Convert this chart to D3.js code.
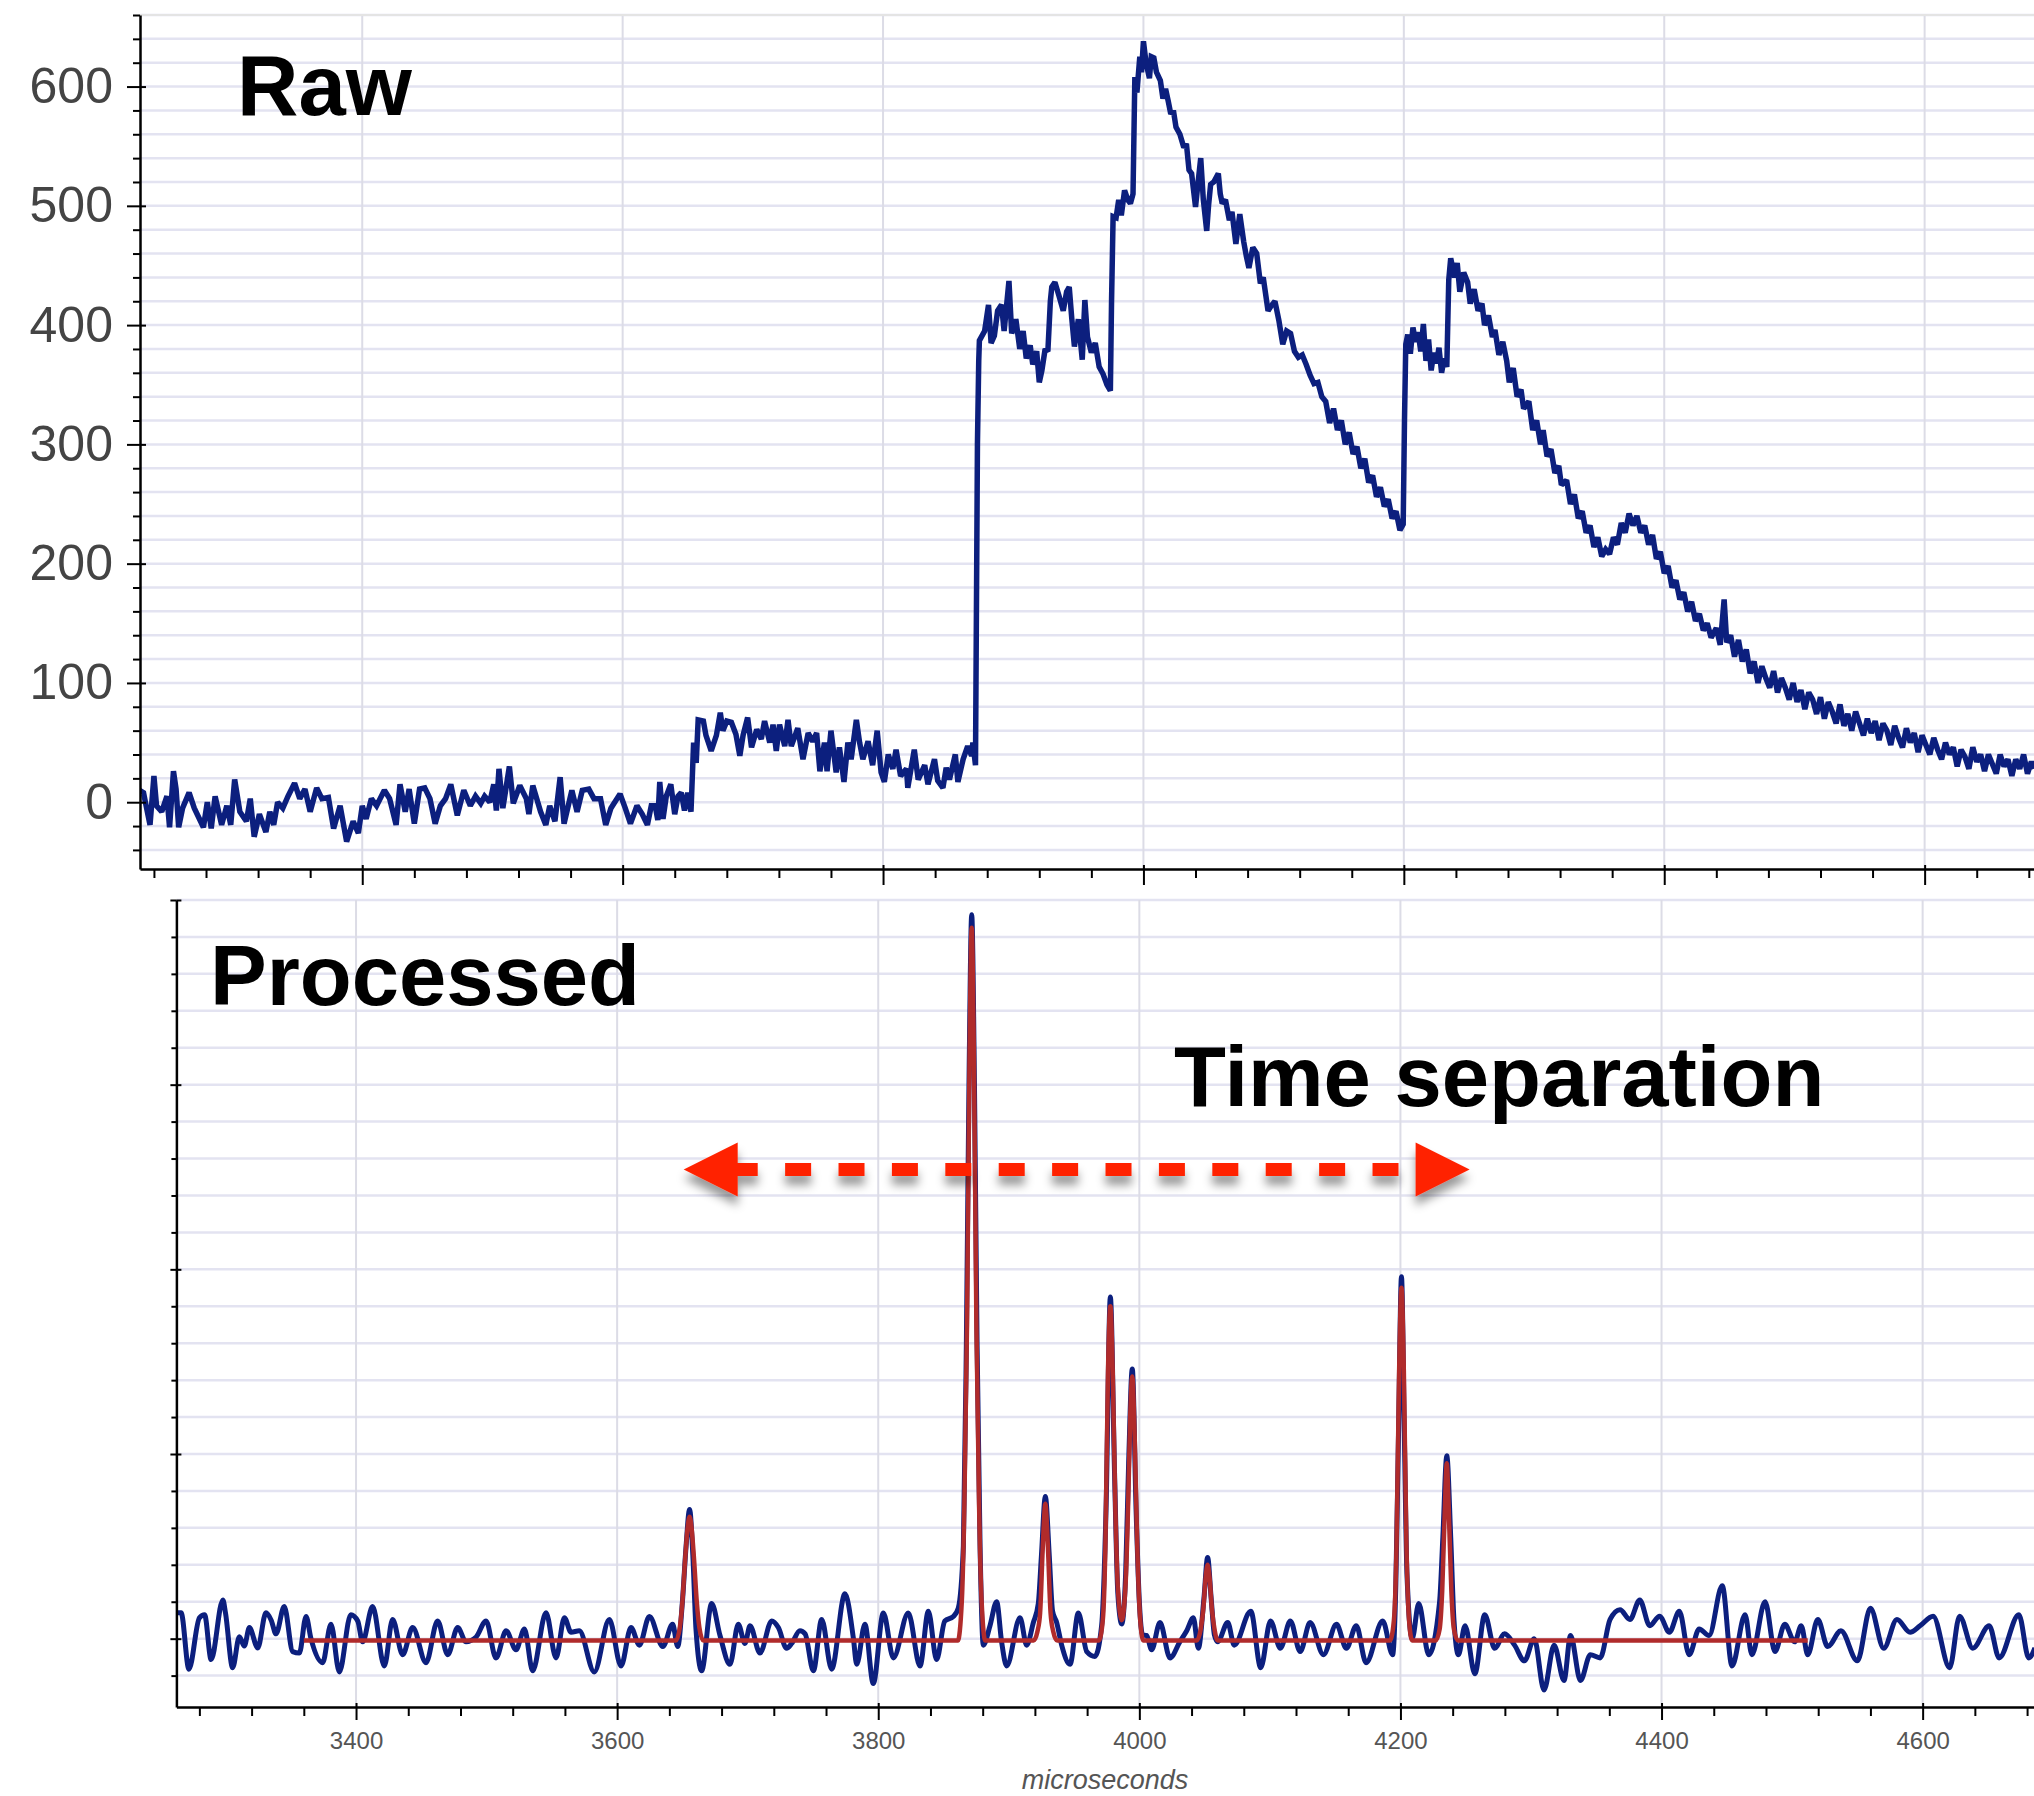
<!DOCTYPE html>
<html>
<head>
<meta charset="utf-8">
<script src="https://cdn.jsdelivr.net/npm/d3@7"></script>
<style>
  html, body { margin: 0; padding: 0; background: #fff; }
  svg { display: block; }
</style>
</head>
<body>
<svg id="chart" width="2034" height="1796"></svg>
<script>
// ---- data (microseconds, value) ----
const rawBaseline = [[3229,10],[3232,8],[3234,-3],[3237,-19],[3240,22],[3242,-3],[3246,-8],[3250,5],[3252,-21],[3255,26],[3257,11],[3259,-21],[3262,-5],[3267,8],[3271,-5],[3278,-21],[3281,0],[3284,-22],[3287,5],[3292,-19],[3296,-3],[3299,-19],[3302,19],[3306,-8],[3311,-16],[3314,3],[3317,-29],[3321,-10],[3326,-25],[3329,-8],[3332,-19],[3335,0],[3339,-5],[3343,5],[3348,16],[3352,3],[3356,11],[3360,-8],[3365,12],[3369,3],[3374,4],[3378,-22],[3383,-3],[3388,-33],[3393,-16],[3397,-26],[3400,-3],[3403,-14],[3407,3],[3411,-3],[3417,10],[3421,3],[3426,-19],[3429,15],[3433,-8],[3436,11],[3440,-18],[3444,11],[3448,12],[3452,3],[3456,-18],[3460,-3],[3464,3],[3468,15],[3473,-11],[3478,10],[3483,-3],[3487,5],[3491,-1],[3494,5],[3498,0],[3501,15],[3503,-7],[3505,28],[3508,-5],[3513,30],[3516,-1],[3521,14],[3526,3],[3528,-10],[3531,14],[3537,-8],[3541,-19],[3544,-3],[3548,-16],[3552,21],[3555,-18],[3561,10],[3565,-8],[3569,10],[3574,11],[3578,3],[3583,3],[3587,-19],[3591,-5],[3598,7],[3602,-5],[3606,-18],[3611,-3],[3615,-10],[3619,-19],[3622,-3],[3625,-3],[3627,-15],[3628.5,17],[3631,-14],[3633.5,5],[3637,15],[3640,-10],[3642.5,5],[3645,8],[3647.5,-7],[3650,8],[3652.5,-8]];

const rawPlateau = [[3654.5,50],[3656.5,33],[3658,69],[3662,68],[3664,56],[3668,43],[3672,56],[3675,75],[3677,60],[3680,68],[3683.5,67],[3687,57],[3690,39],[3692.5,56],[3696,71],[3699,46],[3703,61],[3706.5,53],[3709,68],[3713,50],[3715.5,65],[3718,43],[3720.5,65],[3724.5,47],[3727,69],[3729.5,47],[3734.5,62],[3738.5,36],[3742.5,58],[3746,51],[3749,58],[3751.5,26],[3755,50],[3757,26],[3760,60],[3764,25],[3766.5,46],[3770,17],[3773,50],[3775.5,36],[3779.5,69],[3782,50],[3784.5,36],[3788.5,51],[3792,31],[3795.5,60],[3798.5,25],[3801,17],[3804,40],[3807.5,28],[3810,44],[3813.5,22],[3818,28],[3819,12],[3824,44],[3827,19],[3832,31],[3834.5,15],[3839.5,36],[3842,18],[3846,12],[3848.5,29],[3851,19],[3855.5,40],[3857.5,17],[3861.5,36],[3865,47],[3868,39],[3869,50],[3871,31]];

const rawPeaks = [[3872.5,300],[3873.5,370],[3874,387],[3878,395],[3881,417],[3883,385],[3885.5,391],[3888,412],[3891,417],[3893,395],[3896.7,437],[3898.8,393],[3902,405],[3905,380],[3907.6,395],[3910,372],[3913,383],[3915,367],[3918,378],[3920,352],[3922,362],[3924.5,380],[3926.6,378],[3928.5,420],[3929.6,432],[3932,436],[3935,425],[3938.4,412],[3941,428],[3943,432],[3945,405],[3947,382],[3950,405],[3953,371],[3955,421],[3957,390],[3960,377],[3963,385],[3966,365],[3969,359],[3972,350],[3974.6,345],[3975.5,420],[3976.7,491],[3979,490],[3981,505],[3983,492],[3985.5,513],[3988,505],[3990,502],[3992,510],[3993.4,608],[3995,595],[3997.2,625],[3998.5,612],[4000,638],[4002,620],[4004.6,607],[4006,625],[4008,624],[4010,612],[4013,605],[4015,590],[4017,598],[4019,588],[4021,577],[4023,580],[4025,566],[4028,560],[4031,549],[4033,552],[4035,530],[4037,527],[4040,499],[4042,520],[4044,540],[4046,505],[4048.6,479],[4050,500],[4051.6,518],[4054,520],[4057.5,527],[4059,510],[4060.5,502],[4063,505],[4066,488],[4068,495],[4071,468],[4074,493],[4077,470],[4079,458],[4081,448],[4084,465],[4087,460],[4089.8,435],[4092,440],[4095.7,412],[4098,416],[4101,420],[4104,404],[4107,384],[4110,395],[4113,393],[4116,378],[4119,373],[4122,375],[4125,367],[4128,358],[4131,351],[4134,352],[4137,340]];

const rawSecond = [[4140,336],[4143,318],[4146,330],[4149,312],[4152,320],[4155,300],[4158,310],[4161,292],[4164,298],[4167,280],[4170,288],[4173,268],[4176,274],[4179,256],[4182,264],[4185,248],[4188,254],[4191,238],[4194,244],[4197,228],[4199.5,233],[4200.5,320],[4201.5,384],[4203,392],[4205,376],[4207,398],[4209,386],[4211,394],[4213,378],[4215,401],[4217,370],[4219,388],[4221,362],[4223,377],[4225,368],[4227,381],[4229,360],[4231,372],[4233,365],[4234.5,438],[4236,456],[4239,440],[4241,452],[4243,428],[4246,444],[4249,436],[4251,418],[4254,430],[4257,412],[4260,418],[4262,400],[4265,408],[4268,390],[4270,396],[4273,375],[4276,386],[4279,370],[4281,352],[4284,364],[4287,340],[4290,346],[4292,330],[4296,336],[4299,312],[4302,320],[4305,300],[4307,312],[4310,290],[4313,296],[4316,276],[4319,282],[4321,266],[4325,270],[4328,250],[4331,258],[4334,238],[4337,244],[4340,226],[4343,232],[4346,214],[4349,222],[4352,206],[4355,212],[4358,208],[4361,222],[4364,216],[4367,234],[4370,226],[4373,242],[4376,232],[4379,240],[4382,226],[4385,232],[4388,216],[4391,224],[4394,204],[4397,210],[4400,192],[4403,198],[4406,180],[4409,186],[4412,170],[4415,176],[4418,160],[4421,168],[4424,152],[4427,158],[4430,144],[4433,150],[4436,138],[4440,146]];

const rawTail = [[4443,132],[4446,170],[4448,134],[4451,140],[4454,122],[4457,136],[4460,118],[4463,128],[4466,108],[4469,118],[4472,100],[4475,114],[4478,104],[4481,96],[4484,110],[4487,92],[4490,104],[4493,96],[4496,86],[4499,100],[4502,84],[4505,94],[4508,78],[4511,92],[4514,86],[4517,74],[4520,88],[4523,70],[4526,84],[4529,76],[4532,66],[4535,82],[4538,64],[4541,74],[4544,60],[4547,76],[4550,66],[4553,56],[4556,70],[4559,58],[4562,68],[4565,52],[4568,66],[4571,60],[4574,48],[4577,64],[4580,54],[4583,46],[4586,62],[4589,50],[4592,58],[4595,42],[4598,56],[4601,48],[4604,40],[4607,54],[4610,44],[4613,36],[4616,50],[4619,40],[4622,46],[4625,30],[4628,44],[4631,38],[4634,28],[4637,46],[4640,34],[4643,40],[4646,26],[4649,40],[4652,32],[4655,24],[4658,40],[4661,30],[4664,36],[4667,22],[4670,36],[4673,28],[4676,40],[4679,24],[4682,34],[4684,28]];

const processed = [[3263,0.14],[3266,0.14],[3272,-0.165],[3280,0.113],[3284,0.13],[3289,-0.113],[3298,0.21],[3300,0.14],[3305.5,-0.157],[3310.6,0.01],[3314.4,-0.04],[3318.3,0.06],[3324.7,-0.05],[3331,0.14],[3335,0.1],[3338.7,0.026],[3345,0.174],[3351.5,-0.07],[3356.6,-0.078],[3361.7,0.12],[3365.5,0],[3374.4,-0.13],[3380.8,0.078],[3387.2,-0.18],[3396,0.13],[3401.3,0.096],[3405,-0.017],[3412.7,0.174],[3421.7,-0.148],[3428,0.104],[3435.7,-0.087],[3443.4,0.06],[3453.6,-0.13],[3462.5,0.096],[3470.2,-0.087],[3477.9,0.06],[3484.2,-0.017],[3492,0.009],[3499.6,0.096],[3507.2,-0.104],[3515,0.043],[3522.5,-0.06],[3529,0.052],[3535.3,-0.174],[3545.5,0.14],[3553.2,-0.104],[3559.6,0.113],[3564.7,0.035],[3571,0.043],[3582.5,-0.18],[3594,0.104],[3603,-0.148],[3610.6,0.06],[3617,-0.035],[3624.7,0.12],[3635,-0.043],[3642.5,0.078],[3646.4,-0.043],[3650,0.2],[3652.8,0.5],[3655.5,0.70],[3658,0.45],[3660.4,0.05],[3664.7,-0.174],[3672.4,0.19],[3678.8,0.017],[3686.4,-0.139],[3692.8,0.078],[3697.9,-0.026],[3701.8,0.07],[3709.4,-0.078],[3718.4,0.096],[3723.5,0.06],[3729.8,-0.052],[3733.7,-0.026],[3740,0.043],[3744,0.026],[3750.3,-0.174],[3756.7,0.104],[3764.3,-0.165],[3774.5,0.243],[3781,0],[3783.5,-0.139],[3789.8,0.078],[3796.2,-0.243],[3803.9,0.139],[3811.6,-0.104],[3823,0.139],[3832,-0.148],[3838.4,0.148],[3844.7,-0.113],[3851,0.096],[3857.5,0.12],[3861.3,0.165],[3865.2,0.5],[3867.5,1.6],[3869.5,3.0],[3871.6,3.92],[3873.7,3.0],[3875.7,1.6],[3878,0.5],[3880.5,-0.035],[3885.6,0.07],[3890.7,0.2],[3894.5,-0.017],[3898.4,-0.148],[3908.6,0.113],[3913.7,-0.035],[3918.8,0.087],[3922.6,0.19],[3925,0.45],[3928,0.77],[3931,0.45],[3933.5,0.15],[3936.7,0.087],[3940.5,-0.035],[3946.9,-0.139],[3953.3,0.139],[3959.7,-0.07],[3966,-0.096],[3971.1,0.07],[3974.5,0.7],[3977.8,1.85],[3981,0.9],[3983.5,0.25],[3986.5,0.08],[3989.5,0.35],[3991.8,0.95],[3994.6,1.46],[3997.5,0.7],[4000,0.2],[4002.5,0.02],[4005.6,0.017],[4009.4,-0.06],[4015.8,0.087],[4023.5,-0.104],[4031,-0.017],[4036.3,0.043],[4041.4,0.113],[4045.2,-0.052],[4049.5,0.22],[4052.3,0.44],[4055,0.22],[4057.5,0.02],[4060,-0.017],[4067.7,0.087],[4072.7,-0.035],[4085.4,0.148],[4093,-0.157],[4100.5,0.096],[4108,-0.052],[4115.7,0.096],[4123.2,-0.07],[4130.8,0.087],[4141,-0.087],[4151,0.078],[4158.6,-0.052],[4166.2,0.07],[4173.7,-0.13],[4186.4,0.096],[4194,-0.087],[4196.5,0.3],[4198.5,1.1],[4200.8,1.96],[4203,1.1],[4205,0.35],[4209,0],[4214,0.19],[4221.7,-0.087],[4230,0.2],[4232.5,0.55],[4235.5,0.99],[4238.5,0.55],[4241,0.1],[4244.4,-0.087],[4249.5,0.07],[4257,-0.19],[4264.6,0.13],[4272.2,-0.052],[4279.8,0.026],[4287.4,-0.035],[4295,-0.12],[4302.5,0],[4310,-0.278],[4317.7,-0.035],[4325.3,-0.226],[4330.3,0.017],[4337.9,-0.226],[4345.5,-0.087],[4353,-0.104],[4360.6,0.104],[4368.2,0.157],[4375.8,0.104],[4383.3,0.209],[4391,0.07],[4398.5,0.122],[4406,0.035],[4413.6,0.148],[4421.2,-0.087],[4428.8,0.052],[4436.4,0.017],[4446.5,0.287],[4454,-0.148],[4464,0.13],[4469.2,-0.087],[4479.3,0.2],[4486.9,-0.07],[4494.4,0.078],[4502,-0.017],[4507,0.07],[4512,-0.087],[4519.7,0.104],[4527.3,-0.043],[4537.4,0.043],[4550,-0.12],[4560,0.165],[4570.2,-0.052],[4580.3,0.104],[4590.4,0.035],[4598,0.07],[4608,0.122],[4620.7,-0.157],[4628.3,0.122],[4638.4,-0.052],[4651,0.07],[4658.6,-0.104],[4673.7,0.13],[4681.3,-0.104],[4686,-0.05]];

const fitted = [[3360,-0.01],[3645,-0.01],[3648,0.06],[3650,0.2],[3652,0.42],[3654,0.6],[3655.5,0.66],[3657,0.6],[3659,0.42],[3661,0.2],[3663,0.06],[3666,-0.01],[3861,-0.01],[3864,0.2],[3866,0.74],[3868,1.7],[3870,3.2],[3871.6,3.85],[3873.2,3.2],[3875.2,1.7],[3877.2,0.74],[3879.2,0.2],[3882,-0.01],[3919,-0.01],[3922,0.04],[3924,0.14],[3926,0.49],[3928,0.73],[3930,0.49],[3932,0.14],[3934,0.04],[3937,-0.01],[3969,-0.01],[3972,0.1],[3974,0.5],[3976,1.45],[3977.8,1.8],[3979.6,1.45],[3981.5,0.75],[3983.5,0.28],[3986.5,0.1],[3989.5,0.3],[3991.5,0.75],[3993,1.2],[3994.6,1.42],[3996.4,1.1],[3998.4,0.5],[4000.5,0.12],[4003,-0.01],[4044,-0.01],[4047,0.05],[4049,0.16],[4050.8,0.33],[4052.3,0.40],[4053.8,0.33],[4055.6,0.16],[4057.6,0.05],[4060,-0.01],[4192,-0.01],[4195,0.1],[4197,0.5],[4199,1.45],[4200.8,1.9],[4202.6,1.45],[4204.6,0.5],[4206.6,0.1],[4209,-0.01],[4227,-0.01],[4230,0.05],[4232,0.26],[4234,0.7],[4235.5,0.95],[4237,0.7],[4239,0.26],[4241,0.05],[4244,-0.01],[4512,-0.01]];

const xTickLabels = [3400, 3600, 3800, 4000, 4200, 4400, 4600];
const rawTickLabels = [0, 100, 200, 300, 400, 500, 600];
const procMajorTicks = [0, 1, 2, 3, 4];
const separation = [3651, 4253];   // arrow ends, microseconds
const separationLevel = 2.54;      // arrow height, processed units

// ---- layout ----
const W = 2034;
const fontSans = '"Liberation Sans", Arial, Helvetica, sans-serif';
const blue = '#0c1f7e', red = '#b02b2b';
const gridH = '#e3e3f1', gridV = '#dcdce6';

const svg = d3.select('#chart');
const defs = svg.append('defs');

const xTop = d3.scaleLinear().domain([3229.3, 4684]).range([140, W]);
const yTop = d3.scaleLinear().domain([-56, 660]).range([869, 15]);
const xBot = d3.scaleLinear().domain([3262.4, 4685.3]).range([176.4, W]);
const yBot = d3.scaleLinear().domain([-0.37, 4.0]).range([1707, 900]);

function clip(id, x, y) {
    defs.append('clipPath').attr('id', id)
        .append('rect')
        .attr('x', x.range()[0]).attr('y', y.range()[1])
        .attr('width', x.range()[1] - x.range()[0])
        .attr('height', y.range()[0] - y.range()[1]);
}
clip('clipTop', xTop, yTop);
clip('clipBot', xBot, yBot);

function drawGrid(g, x, y, yMinor) {
    g.append('g').selectAll('line')
        .data(yMinor)
        .join('line')
        .attr('x1', x.range()[0]).attr('x2', x.range()[1])
        .attr('y1', d => y(d)).attr('y2', d => y(d))
        .attr('stroke', gridH).attr('stroke-width', 2.5);
    g.append('g').selectAll('line')
        .data(xTickLabels)
        .join('line')
        .attr('x1', d => x(d)).attr('x2', d => x(d))
        .attr('y1', y.range()[1]).attr('y2', y.range()[0])
        .attr('stroke', gridV).attr('stroke-width', 2);
}

function styleAxis(sel, width) {
    sel.selectAll('path.domain').attr('stroke', '#000').attr('stroke-width', width);
    sel.selectAll('.tick line').attr('stroke', '#000').attr('stroke-width', 2);
}

// ---- top panel: raw ----
const topPanel = svg.append('g');
const topMinorY = d3.range(-40, 661, 20);
drawGrid(topPanel, xTop, yTop, topMinorY);

topPanel.append('line')
    .attr('x1', xTop.range()[0]).attr('x2', W)
    .attr('y1', yTop.range()[1]).attr('y2', yTop.range()[1])
    .attr('stroke', '#e4e4e4').attr('stroke-width', 2);

const rawLine = d3.line().x(d => xTop(d[0])).y(d => yTop(d[1]));
topPanel.append('path')
    .datum([...rawBaseline, ...rawPlateau, ...rawPeaks, ...rawSecond, ...rawTail])
    .attr('clip-path', 'url(#clipTop)')
    .attr('fill', 'none')
    .attr('stroke', blue)
    .attr('stroke-width', 5.5)
    .attr('stroke-linejoin', 'miter')
    .attr('stroke-miterlimit', 2)
    .attr('d', rawLine);

// y axis with labels
const yTopAxis = topPanel.append('g')
    .attr('transform', `translate(${xTop.range()[0]},0)`)
    .call(d3.axisLeft(yTop).tickValues(rawTickLabels).tickSize(13).tickPadding(14).tickSizeOuter(0));
styleAxis(yTopAxis, 2.5);
yTopAxis.selectAll('text')
    .attr('fill', '#444')
    .style('font-family', fontSans)
    .style('font-size', '50px');
topPanel.append('g')
    .attr('transform', `translate(${xTop.range()[0]},0)`)
    .call(d3.axisRight(yTop).tickValues(rawTickLabels).tickSize(6).tickFormat('').tickSizeOuter(0))
    .call(g => g.select('.domain').remove())
    .call(g => styleAxis(g, 2));
topPanel.append('g')
    .attr('transform', `translate(${xTop.range()[0]},0)`)
    .call(d3.axisLeft(yTop).tickValues(topMinorY.filter(v => v % 100 !== 0)).tickSize(7).tickFormat('').tickSizeOuter(0))
    .call(g => g.select('.domain').remove())
    .call(g => styleAxis(g, 2));

// x axis of top panel (ticks only)
const xTopAxis = topPanel.append('g')
    .attr('transform', `translate(0,${yTop.range()[0]})`)
    .call(d3.axisBottom(xTop).tickValues(xTickLabels).tickSize(16).tickFormat('').tickSizeOuter(0));
styleAxis(xTopAxis, 2.5);
topPanel.append('g')
    .attr('transform', `translate(0,${yTop.range()[0]})`)
    .call(d3.axisTop(xTop).tickValues(xTickLabels).tickSize(4).tickFormat('').tickSizeOuter(0))
    .call(g => g.select('.domain').remove())
    .call(g => styleAxis(g, 2));
topPanel.append('g')
    .attr('transform', `translate(0,${yTop.range()[0]})`)
    .call(d3.axisBottom(xTop).tickValues(d3.range(3240, 4684, 40).filter(v => v % 200 !== 0)).tickSize(9).tickFormat('').tickSizeOuter(0))
    .call(g => g.select('.domain').remove())
    .call(g => styleAxis(g, 2));

topPanel.append('text')
    .attr('x', 237).attr('y', 115)
    .style('font-family', fontSans).style('font-weight', 'bold').style('font-size', '85px')
    .attr('fill', '#000')
    .text('Raw');

// ---- bottom panel: processed ----
const botPanel = svg.append('g');
const botMinorY = d3.range(-0.2, 4.01, 0.2).map(v => +v.toFixed(1));
drawGrid(botPanel, xBot, yBot, botMinorY);

const procLine = d3.line().curve(d3.curveMonotoneX).x(d => xBot(d[0])).y(d => yBot(d[1]));
botPanel.append('path')
    .datum(processed)
    .attr('clip-path', 'url(#clipBot)')
    .attr('fill', 'none')
    .attr('stroke', blue)
    .attr('stroke-width', 5)
    .attr('d', procLine);
botPanel.append('path')
    .datum(fitted)
    .attr('clip-path', 'url(#clipBot)')
    .attr('fill', 'none')
    .attr('stroke', red)
    .attr('stroke-width', 4.5)
    .attr('d', procLine);

const yBotAxis = botPanel.append('g')
    .attr('transform', `translate(${xBot.range()[0]},0)`)
    .call(d3.axisLeft(yBot).tickValues(procMajorTicks).tickSize(6).tickFormat('').tickSizeOuter(0));
styleAxis(yBotAxis, 2.5);
botPanel.append('g')
    .attr('transform', `translate(${xBot.range()[0]},0)`)
    .call(d3.axisRight(yBot).tickValues(procMajorTicks).tickSize(5).tickFormat('').tickSizeOuter(0))
    .call(g => g.select('.domain').remove())
    .call(g => styleAxis(g, 2));
botPanel.append('g')
    .attr('transform', `translate(${xBot.range()[0]},0)`)
    .call(d3.axisLeft(yBot).tickValues(botMinorY.filter(v => !procMajorTicks.includes(v))).tickSize(5).tickFormat('').tickSizeOuter(0))
    .call(g => g.select('.domain').remove())
    .call(g => styleAxis(g, 2));

const xBotAxis = botPanel.append('g')
    .attr('transform', `translate(0,${yBot.range()[0]})`)
    .call(d3.axisBottom(xBot).tickValues(xTickLabels).tickFormat(d3.format('d')).tickSize(13).tickPadding(12).tickSizeOuter(0));
styleAxis(xBotAxis, 2.5);
xBotAxis.selectAll('text')
    .attr('fill', '#555')
    .style('font-family', fontSans)
    .style('font-size', '24px');
botPanel.append('g')
    .attr('transform', `translate(0,${yBot.range()[0]})`)
    .call(d3.axisTop(xBot).tickValues(xTickLabels).tickSize(4).tickFormat('').tickSizeOuter(0))
    .call(g => g.select('.domain').remove())
    .call(g => styleAxis(g, 2));
botPanel.append('g')
    .attr('transform', `translate(0,${yBot.range()[0]})`)
    .call(d3.axisBottom(xBot).tickValues(d3.range(3280, 4685, 40).filter(v => v % 200 !== 0)).tickSize(9).tickFormat('').tickSizeOuter(0))
    .call(g => g.select('.domain').remove())
    .call(g => styleAxis(g, 2));

botPanel.append('text')
    .attr('x', 1105).attr('y', 1789)
    .attr('text-anchor', 'middle')
    .style('font-family', fontSans).style('font-style', 'italic').style('font-size', '27px')
    .attr('fill', '#555')
    .text('microseconds');

botPanel.append('text')
    .attr('x', 210).attr('y', 1005)
    .style('font-family', fontSans).style('font-weight', 'bold').style('font-size', '85px')
    .attr('fill', '#000')
    .text('Processed');

botPanel.append('text')
    .attr('x', 1174).attr('y', 1106)
    .style('font-family', fontSans).style('font-weight', 'bold').style('font-size', '85px')
    .attr('fill', '#000')
    .text('Time separation');

// ---- time separation arrow ----
const shadow = defs.append('filter').attr('id', 'shadow')
    .attr('x', '-20%').attr('y', '-100%').attr('width', '140%').attr('height', '300%');
shadow.append('feDropShadow')
    .attr('dx', 0).attr('dy', 9).attr('stdDeviation', 5)
    .attr('flood-color', '#000').attr('flood-opacity', 0.4);

const ax0 = xBot(separation[0]), ax1 = xBot(separation[1]), ay = yBot(separationLevel);
const head = 54, half = 27;
const arrow = botPanel.append('g').attr('filter', 'url(#shadow)');
arrow.append('line')
    .attr('x1', ax0 + head - 6).attr('x2', ax1 - head)
    .attr('y1', ay).attr('y2', ay)
    .attr('stroke', '#ff2200').attr('stroke-width', 13)
    .attr('stroke-dasharray', '26 27.4');
arrow.append('path')
    .attr('fill', '#ff2200')
    .attr('d', `M${ax0},${ay} L${ax0 + head},${ay - half} L${ax0 + head},${ay + half} Z`);
arrow.append('path')
    .attr('fill', '#ff2200')
    .attr('d', `M${ax1},${ay} L${ax1 - head},${ay - half} L${ax1 - head},${ay + half} Z`);
</script>
</body>
</html>
